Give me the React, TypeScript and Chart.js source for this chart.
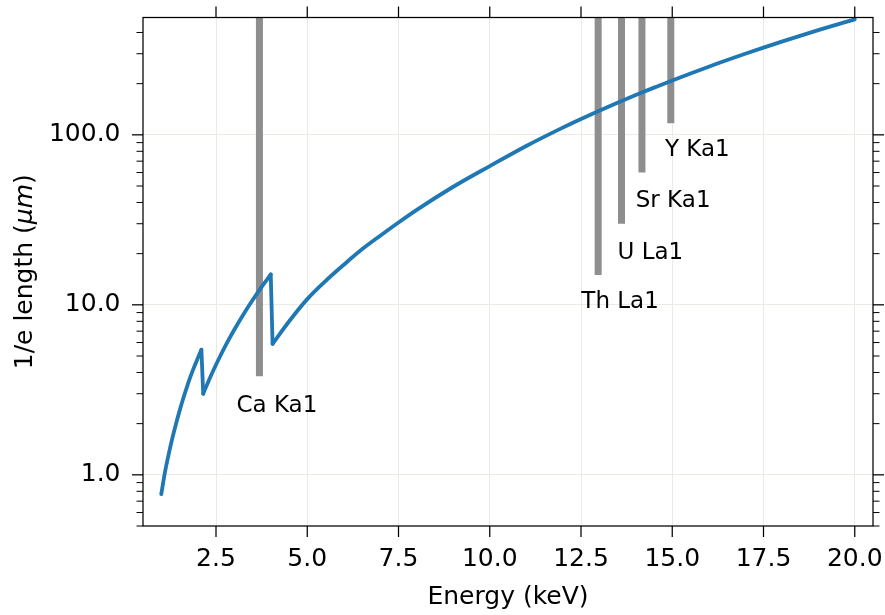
import React, { useEffect, useRef } from 'react';
import { Chart, registerables } from 'chart.js';

Chart.register(...registerables);

// ---- data ----
// attenuation-length curve, split at the absorption edges
const energyBranch1 = [1.0, 1.1, 1.2, 1.3, 1.4, 1.5, 1.6, 1.7, 1.8, 1.9, 2.0, 2.1];
const lengthBranch1 = [0.77, 1.03, 1.31, 1.63, 1.98, 2.37, 2.8, 3.27, 3.78, 4.3, 4.85, 5.45];

const energyBranch2 = [2.15, 2.3, 2.5, 2.75, 3.0, 3.25, 3.5, 3.75, 4.0];
const lengthBranch2 = [3.0, 3.58, 4.44, 5.69, 7.13, 8.78, 10.64, 12.75, 15.1];

const energyBranch3 = [4.05, 4.5, 5.0, 5.5, 6.0, 6.5, 7.0, 7.5, 8.0, 9.0, 10.0, 11.0, 12.0, 12.5, 13.0, 13.5, 14.0, 14.5, 15.0, 16.0, 17.0, 17.5, 18.0, 19.0, 20.0];
const lengthBranch3 = [5.9, 7.98, 10.8, 13.8, 17.2, 21.2, 25.5, 30.5, 36.2, 49.5, 65.5, 86, 110.3, 124, 138.7, 154.6, 171.5, 189.5, 209, 251.7, 299.7, 325.8, 353.3, 412.9, 478];

// emission lines
const lineNames = ['Ca Ka1', 'Th La1', 'U La1', 'Sr Ka1', 'Y Ka1'];
const lineEnergies = [3.69, 12.97, 13.61, 14.17, 14.96];
const lineBottoms = [3.8, 15, 30, 60, 117];
const lineTop = 490;
const labelEnergies = [3.06, 12.51, 13.5, 14.0, 14.8];
const labelLengths = [2.55, 10.4, 20.1, 40.6, 81];

// axes
const xMin = 0.5;
const xMax = 20.5;
const yMin = 0.5;
const yMax = 490;
const xTicks = [2.5, 5.0, 7.5, 10.0, 12.5, 15.0, 17.5, 20.0];
const yTicks = [1, 10, 100];
const yMinorTicks = [0.5, 0.6, 0.7, 0.8, 0.9, 2, 3, 4, 5, 6, 7, 8, 9, 20, 30, 40, 50, 60, 70, 80, 90, 200, 300, 400];
const xTitle = 'Energy (keV)';
const yTitleParts = ['1/e length (', 'μm', ')'];

const FONT = "'DejaVu Sans', 'Liberation Sans', sans-serif";
const BLUE = '#1f77b4';
const GRAY = '#8e8e8e';
const GRID = '#ebebe3';

const toPoints = (xs: number[], ys: number[]) => xs.map((x, i) => ({ x, y: ys[i] }));

const overlayPlugin = {
  id: 'overlay',
  afterDatasetsDraw(chart: any) {
    const { ctx, scales } = chart;
    const x = scales.x;
    const y = scales.y;
    ctx.save();
    ctx.fillStyle = '#000';
    ctx.font = `23px ${FONT}`;
    ctx.textAlign = 'left';
    ctx.textBaseline = 'middle';
    lineNames.forEach((name, i) => {
      ctx.fillText(name, x.getPixelForValue(labelEnergies[i]), y.getPixelForValue(labelLengths[i]));
    });
    ctx.restore();
  },
  afterDraw(chart: any) {
    const { ctx, chartArea, scales } = chart;
    const { left, right, top, bottom } = chartArea;
    const x = scales.x;
    const y = scales.y;
    ctx.save();
    ctx.strokeStyle = '#000';
    ctx.lineWidth = 1.25;
    ctx.strokeRect(left, top, right - left, bottom - top);
    const seg = (x1: number, y1: number, x2: number, y2: number) => {
      ctx.beginPath();
      ctx.moveTo(x1, y1);
      ctx.lineTo(x2, y2);
      ctx.stroke();
    };
    const major = 11;
    const minor = 6.5;
    ctx.lineWidth = 1.25;
    xTicks.forEach((v) => {
      const px = x.getPixelForValue(v);
      seg(px, bottom, px, bottom + major);
      seg(px, top, px, top - major);
    });
    yTicks.forEach((v) => {
      const py = y.getPixelForValue(v);
      seg(left - major, py, left, py);
      seg(right, py, right + major, py);
    });
    ctx.lineWidth = 1;
    yMinorTicks.forEach((v) => {
      const py = y.getPixelForValue(v);
      seg(left - minor, py, left, py);
      seg(right, py, right + minor, py);
    });

    // axis titles
    ctx.fillStyle = '#000';
    ctx.font = `25px ${FONT}`;
    ctx.textAlign = 'center';
    ctx.textBaseline = 'alphabetic';
    ctx.fillText(xTitle, (left + right) / 2, 604);

    ctx.translate(31.5, (top + bottom) / 2);
    ctx.rotate(-Math.PI / 2);
    ctx.textAlign = 'left';
    const fonts = [`25px ${FONT}`, `italic 25px ${FONT}`, `25px ${FONT}`];
    const widths = yTitleParts.map((t, i) => {
      ctx.font = fonts[i];
      return ctx.measureText(t).width;
    });
    let cx = -widths.reduce((a, b) => a + b, 0) / 2;
    yTitleParts.forEach((t, i) => {
      ctx.font = fonts[i];
      ctx.fillText(t, cx, 0);
      cx += widths[i];
    });
    ctx.restore();
  },
};

const zeroPad = (s: any) => {
  s.paddingTop = 0;
  s.paddingBottom = 0;
  s.paddingLeft = 0;
  s.paddingRight = 0;
};

export default function App() {
  const ref = useRef<HTMLCanvasElement>(null);
  useEffect(() => {
    const canvas = ref.current;
    if (!canvas) return;
    const curveStyle = {
      borderColor: BLUE,
      borderWidth: 3.8,
      borderCapStyle: 'round' as const,
      borderJoinStyle: 'round' as const,
      pointRadius: 0,
      fill: false,
    };
    const curveSets: any[] = [
      { ...curveStyle, data: toPoints(energyBranch1, lengthBranch1), cubicInterpolationMode: 'monotone' },
      { ...curveStyle, data: [
        { x: energyBranch1[energyBranch1.length - 1], y: lengthBranch1[lengthBranch1.length - 1] },
        { x: energyBranch2[0], y: lengthBranch2[0] },
      ] },
      { ...curveStyle, data: toPoints(energyBranch2, lengthBranch2), cubicInterpolationMode: 'monotone' },
      { ...curveStyle, data: [
        { x: energyBranch2[energyBranch2.length - 1], y: lengthBranch2[lengthBranch2.length - 1] },
        { x: energyBranch3[0], y: lengthBranch3[0] },
      ] },
      { ...curveStyle, data: toPoints(energyBranch3, lengthBranch3), cubicInterpolationMode: 'monotone' },
    ];
    const lineSets: any[] = lineEnergies.map((e, i) => ({
      data: [{ x: e, y: lineBottoms[i] }, { x: e, y: lineTop }],
      borderColor: GRAY,
      borderWidth: 7,
      borderCapStyle: 'butt',
      pointRadius: 0,
      fill: false,
      clip: 0,
    }));
    const chart = new Chart(canvas, {
      type: 'line',
      data: { datasets: [...curveSets, ...lineSets] },
      options: {
        animation: false,
        responsive: false,
        devicePixelRatio: 1,
        layout: { padding: { top: 17.5, right: 12, left: 0, bottom: 0 } },
        plugins: { legend: { display: false }, tooltip: { enabled: false } },
        elements: { point: { radius: 0 } },
        scales: {
          x: {
            type: 'linear',
            min: xMin,
            max: xMax,
            afterBuildTicks: (s: any) => {
              s.ticks = xTicks.map((value) => ({ value }));
            },
            afterFit: (s: any) => {
              s.height = 89;
              zeroPad(s);
            },
            grid: { color: GRID, lineWidth: 1, drawTicks: false },
            border: { display: false },
            ticks: {
              autoSkip: false,
              maxRotation: 0,
              padding: 21,
              color: '#000',
              font: { family: FONT, size: 25, lineHeight: 1 },
              callback: (v: any) => Number(v).toFixed(1),
            },
          },
          y: {
            type: 'logarithmic',
            min: yMin,
            max: yMax,
            afterBuildTicks: (s: any) => {
              s.ticks = yTicks.map((value) => ({ value }));
            },
            afterFit: (s: any) => {
              s.width = 143;
              zeroPad(s);
            },
            grid: { color: GRID, lineWidth: 1, drawTicks: false },
            border: { display: false },
            ticks: {
              autoSkip: false,
              padding: 22.5,
              color: '#000',
              font: { family: FONT, size: 25, lineHeight: 1 },
              callback: (v: any) => Number(v).toFixed(1),
            },
          },
        },
      } as any,
      plugins: [overlayPlugin],
    });
    return () => chart.destroy();
  }, []);
  return (
    <div style={{ position: 'absolute', left: 0, top: 0, width: 885, height: 615, background: '#fff' }}>
      <canvas ref={ref} width={885} height={615} style={{ display: 'block', width: 885, height: 615 }} />
    </div>
  );
}
